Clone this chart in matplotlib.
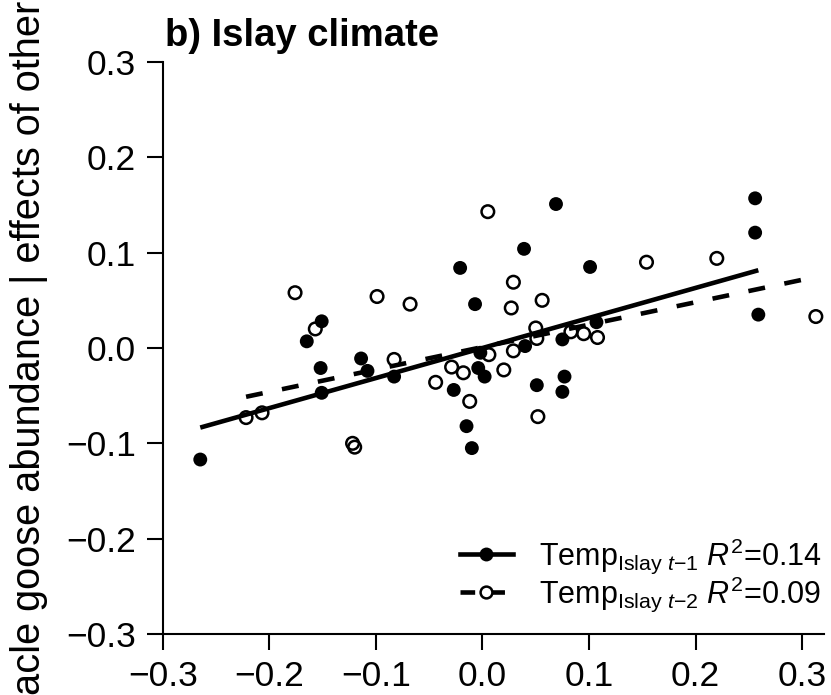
import numpy as np
import matplotlib
matplotlib.use("Agg")
import matplotlib.pyplot as plt
from matplotlib.lines import Line2D

plt.rcParams['font.family'] = ['Liberation Sans', 'DejaVu Sans']
plt.rcParams['mathtext.fontset'] = 'custom'
plt.rcParams['mathtext.rm'] = 'Liberation Sans'
plt.rcParams['mathtext.it'] = 'Liberation Sans:italic'
plt.rcParams['mathtext.bf'] = 'Liberation Sans:bold'

# Temp Islay t-1 (filled points)
t1_x = [-0.265, -0.165, -0.151, -0.152, -0.151, -0.114, -0.108, -0.083, -0.021, -0.007,
        0.039, 0.069, 0.101, 0.256, 0.256, 0.259, 0.107, 0.075, 0.040, -0.002,
        -0.004, 0.002, -0.027, -0.015, -0.010, 0.051, 0.077, 0.075]
t1_y = [-0.117, 0.007, 0.028, -0.021, -0.047, -0.011, -0.024, -0.030, 0.084, 0.046,
        0.104, 0.151, 0.085, 0.157, 0.121, 0.035, 0.027, 0.009, 0.002, -0.005,
        -0.021, -0.030, -0.044, -0.082, -0.105, -0.039, -0.030, -0.046]

# Temp Islay t-2 (open points)
t2_x = [-0.176, -0.099, -0.157, -0.222, -0.207, -0.122, -0.120, -0.083, 0.005, 0.029,
        -0.068, 0.027, 0.056, 0.050, 0.051, 0.154, 0.220, 0.313, 0.083, 0.095,
        0.108, 0.029, 0.006, -0.029, -0.018, 0.020, -0.044, -0.012, 0.052]
t2_y = [0.058, 0.054, 0.020, -0.073, -0.068, -0.100, -0.104, -0.012, 0.143, 0.069,
        0.046, 0.042, 0.050, 0.021, 0.010, 0.090, 0.094, 0.033, 0.017, 0.015,
        0.011, -0.003, -0.007, -0.020, -0.026, -0.023, -0.036, -0.056, -0.072]

# fitted lines (slope, intercept)
t1_fit = (0.315, 0.0)
t2_fit = (0.235, 0.001)

labels = [r'Temp$_{\mathrm{Islay}\ t\mathrm{-1}}$ $R^2$=0.14',
          r'Temp$_{\mathrm{Islay}\ t\mathrm{-2}}$ $R^2$=0.09']
ticks = [-0.3, -0.2, -0.1, 0.0, 0.1, 0.2, 0.3]
tick_labels = ['\u22120.3', '\u22120.2', '\u22120.1', '0.0', '0.1', '0.2', '0.3']

W, H = 831, 695
fig = plt.figure(figsize=(W / 100, H / 100), dpi=100)
ax = fig.add_axes([163 / W, (H - 634) / H, 661 / W, 572 / H])

ax.scatter(t1_x, t1_y, s=100, c='black', edgecolors='none', zorder=3)
ax.scatter(t2_x, t2_y, s=82, facecolors='none', edgecolors='black', linewidths=1.8, zorder=3)

xs = np.array([min(t1_x), max(t1_x)])
ax.plot(xs, t1_fit[0] * xs + t1_fit[1], color='black', lw=3.3, solid_capstyle='butt', zorder=2)
xs = np.array([min(t2_x), max(t2_x)])
ax.plot(xs, t2_fit[0] * xs + t2_fit[1], color='black', lw=3.3, dashes=(3.7, 4.3),
        dash_capstyle='butt', zorder=2)

ax.set_xlim(-0.3, -0.3 + 661 / 1065)
ax.set_ylim(-0.3, 0.3)
ax.set_xticks(ticks)
ax.set_xticklabels(tick_labels)
ax.set_yticks(ticks)
ax.set_yticklabels(tick_labels)
for s in ['top', 'right']:
    ax.spines[s].set_visible(False)
for s in ['left', 'bottom']:
    ax.spines[s].set_linewidth(1.5)
ax.tick_params(axis='both', length=11.5, width=1.5, labelsize=25.5)
ax.tick_params(axis='x', pad=7)
ax.tick_params(axis='y', pad=8)

handles = [Line2D([], [], color='black', lw=3.3, marker='o', ms=10, mec='none'),
           Line2D([], [], color='black', lw=3.3, dashes=(3.2, 3.3), marker='o', ms=8.5,
                  mfc='white', mec='black', mew=1.8)]
ax.legend(handles, labels, loc='lower right', bbox_to_anchor=(822 / W, (H - 614) / H),
          bbox_transform=fig.transFigure, frameon=False, fontsize=22,
          handlelength=1.75, handletextpad=0.85, labelspacing=-0.04, borderpad=0,
          borderaxespad=0)

fig.text(165 / W, 1 - 46 / H, 'b) Islay climate', fontsize=27.5, fontweight='bold',
         ha='left', va='baseline')
fig.text(48 / W, (H - 348) / H, 'acle goose abundance | effects of other', fontsize=28.6,
         rotation=90, ha='right', va='center')

fig.savefig('out.png', dpi=100)
